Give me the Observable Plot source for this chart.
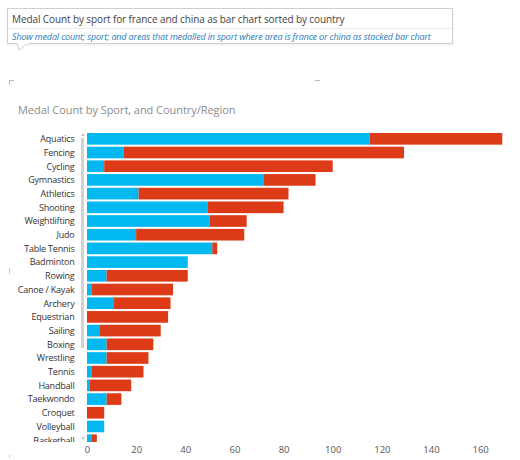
<!DOCTYPE html>
<html><head><meta charset="utf-8">
<script src="https://cdn.jsdelivr.net/npm/d3@7"></script>
<script src="https://cdn.jsdelivr.net/npm/@observablehq/plot@0.6"></script>
<style>
body{margin:0;background:#fff;font-family:"Open Sans",sans-serif;width:520px;height:460px;position:relative;overflow:hidden}
#qbox{position:absolute;left:7px;top:8px;width:446px;height:36px;border:1px solid #cfcfcf;box-shadow:0 1px 2px rgba(0,0,0,.08);background:#fff;box-sizing:border-box}
#qtitle{position:absolute;left:4px;top:3px;font-size:10px;color:#444;white-space:nowrap;letter-spacing:-0.1px}
#qsep{position:absolute;left:0;right:0;top:19px;border-top:1px solid #ececec}
#qsub{position:absolute;left:4px;top:21px;font-size:9px;font-style:italic;color:#2a7ab8;white-space:nowrap;letter-spacing:-0.15px}
#tail{position:absolute;left:17px;top:43px}
#ctitle{position:absolute;left:18px;top:102px;font-size:11px;color:#8c8c8c;white-space:nowrap;letter-spacing:-0.05px}
.mark{position:absolute;background:#b8b8b8}
#plotwrap{position:absolute;left:0;top:125px;width:520px;height:317px;overflow:hidden}
#axiswrap{position:absolute;left:0;top:442px;width:520px;height:18px;overflow:hidden}
#scroll{position:absolute;left:81px;top:138px;width:3px;height:210px;background:#d2d2d2}
.arrow{position:absolute;width:0;height:0;border-left:2px solid transparent;border-right:2px solid transparent}
</style>
</head><body>
<div id="qbox">
  <div id="qtitle">Medal Count by sport for france and china as bar chart sorted by country</div>
  <div id="qsep"></div>
  <div id="qsub">Show medal count; sport; and areas that medalled in sport where area is france or china as stacked bar chart</div>
</div>
<svg id="tail" width="14" height="8"><polygon points="0,0 11,0 2,7" fill="#fff" stroke="#cfcfcf"/><line x1="0.5" y1="0" x2="11" y2="0" stroke="#fff" stroke-width="2"/></svg>
<div class="mark" style="left:9px;top:80px;width:5px;height:1px"></div>
<div class="mark" style="left:9px;top:80px;width:1px;height:5px"></div>
<div class="mark" style="left:315px;top:80px;width:5px;height:1px"></div>
<div class="mark" style="left:9px;top:268px;width:1px;height:6px;background:#ccc"></div>
<div class="mark" style="left:9px;top:455px;width:1px;height:3px;background:#ccc"></div>
<div id="ctitle">Medal Count by Sport, and Country/Region</div>
<div id="plotwrap"></div>
<div id="axiswrap"></div>
<div id="scroll"></div>
<div class="arrow" style="left:80.5px;top:133px;border-bottom:3px solid #c8c8c8"></div>
<div class="arrow" style="left:80.5px;top:437px;border-top:3px solid #c8c8c8"></div>
<script>
const sports = ["Aquatics","Fencing","Cycling","Gymnastics","Athletics","Shooting","Weightlifting","Judo","Table Tennis","Badminton","Rowing","Canoe / Kayak","Archery","Equestrian","Sailing","Boxing","Wrestling","Tennis","Handball","Taekwondo","Croquet","Volleyball","Basketball"];
const china  = [115,15,7,72,21,49,50,20,51,41,8,2,11,0,5,8,8,2,1,8,0,7,2];
const france = [54,114,93,21,61,31,15,44,2,0,33,33,23,33,25,19,17,21,17,6,7,0,2];
const countries = ["China","France"];
const colors = ["#01b8f0","#dd3a17"];
const xTicks = [0,20,40,60,80,100,120,140,160];
const xDomain = [0,175];

const rows = sports.flatMap((s,i)=>[
  {sport:s,country:"China",medals:china[i]},
  {sport:s,country:"France",medals:france[i]}
]);

const font = '"Open Sans", sans-serif';

const chart = Plot.plot({
  width: 517, height: 321,
  marginLeft: 87, marginRight: 0, marginTop: 8, marginBottom: 0,
  x: {domain: xDomain, axis: null},
  y: {domain: sports, paddingInner: 0.15, paddingOuter: 0, round: false, label: null, axis: null},
  color: {domain: countries, range: colors},
  style: {fontFamily: font, fontSize: "9px", color: "#333", background: "transparent", letterSpacing: "-0.2px"},
  marks: [
    Plot.ruleX(xTicks, {x: d => d, stroke: "#e8e8e8", strokeWidth: 1, y1: -3}),
    Plot.barX(rows, {x: "medals", y: "sport", fill: "country", order: countries}),
    Plot.axisY({tickSize: 0, tickPadding: 13, label: null, fill: "#333"})
  ]
});
document.getElementById("plotwrap").appendChild(chart);

const axis = Plot.plot({
  width: 517, height: 18,
  marginLeft: 87, marginRight: 0, marginTop: 0, marginBottom: 18,
  x: {domain: xDomain},
  style: {fontFamily: font, fontSize: "9.5px", color: "#555", background: "transparent"},
  marks: [
    Plot.axisX(xTicks, {anchor: "bottom", tickSize: 0, tickPadding: 4, label: null, fill: "#555"})
  ]
});
document.getElementById("axiswrap").appendChild(axis);
</script>
</body></html>
